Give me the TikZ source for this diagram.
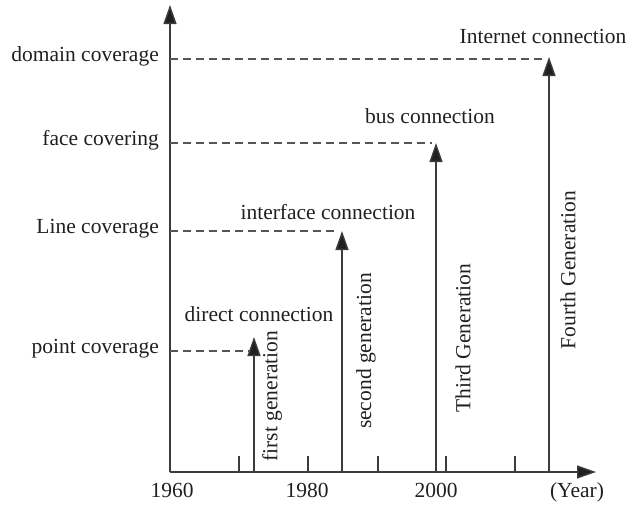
\documentclass[tikz,border=0pt]{standalone}
\usepackage{fontspec}
\setmainfont{Liberation Serif}
\usetikzlibrary{arrows.meta}
\definecolor{ink}{HTML}{231F20}
\definecolor{axisgray}{HTML}{3C3C3C}
\definecolor{dashgray}{HTML}{555555}
\tikzset{
  axisline/.style={line width=1.4pt, draw=axisgray, -{Triangle[length=19pt,width=13pt,fill=ink]}},
  genarrow/.style={line width=1.4pt, draw=axisgray, -{Triangle[length=19pt,width=13pt,fill=ink]}},
  level/.style={line width=1.3pt, draw=dashgray, dash pattern=on 8pt off 5pt},
  tickline/.style={line width=1.2pt, draw=axisgray},
  lbl/.style={font=\fontsize{21.5}{25}\selectfont, text=ink, inner sep=0pt},
  vlbl/.style={lbl, rotate=90, anchor=center},
}
\begin{document}
\begin{tikzpicture}[x=1pt,y=-1pt]
\useasboundingbox (0,0) rectangle (639,504);
% axes
\coordinate (o) at (170,472);
\coordinate (ytop) at (170,5);
\coordinate (xend) at (596,472);
\draw[axisline] (o) -- (ytop);
\draw[axisline] (o) -- (xend);
% ticks
\foreach \x/\n in {239/a,308/b,378/c,446/d,515/e}{
  \coordinate (t\n) at (\x,472);
  \coordinate (tt\n) at (\x,456);
  \draw[tickline] (t\n) -- (tt\n);
}
% level points on y axis
\coordinate (ydom) at (170,59);
\coordinate (yface) at (170,143);
\coordinate (yline) at (170,231);
\coordinate (ypoint) at (170,351);
% generation arrows
\coordinate (b1) at (254,472); \coordinate (h1) at (254,337);
\coordinate (b2) at (342,472); \coordinate (h2) at (342,231);
\coordinate (b3) at (436,472); \coordinate (h3) at (436,143);
\coordinate (b4) at (549,472); \coordinate (h4) at (549,57);
\coordinate (d1) at (250,351);
\coordinate (d2) at (338,231);
\coordinate (d3) at (432,143);
\coordinate (d4) at (545,59);
\draw[genarrow] (b1) -- (h1);
\draw[genarrow] (b2) -- (h2);
\draw[genarrow] (b3) -- (h3);
\draw[genarrow] (b4) -- (h4);
\draw[level] (ydom) -- (d4);
\draw[level] (yface) -- (d3);
\draw[level] (yline) -- (d2);
\draw[level] (ypoint) -- (d1);
% y labels
\node[lbl, anchor=mid east] (ldom) at (159,59) {domain coverage};
\node[lbl, anchor=mid east] (lface) at (159,143) {face covering};
\node[lbl, anchor=mid east] (lline) at (159,231) {Line coverage};
\node[lbl, anchor=mid east] (lpoint) at (159,351) {point coverage};
% x labels
\node[lbl, anchor=base] (x1960) at (172,497) {1960};
\node[lbl, anchor=base] (x1980) at (307,497) {1980};
\node[lbl, anchor=base] (x2000) at (436,497) {2000};
\node[lbl, anchor=base] (xyear) at (577,497) {(Year)};
% connection labels
\node[lbl, anchor=base] (c4) at (543,43) {Internet connection};
\node[lbl, anchor=base] (c3) at (430,123) {bus connection};
\node[lbl, anchor=base] (c2) at (328,219) {interface connection};
\node[lbl, anchor=base] (c1) at (259,321) {direct connection};
% generation labels
\node[vlbl] (g1) at (272,396) {first generation};
\node[vlbl] (g2) at (366,351) {second generation};
\node[vlbl] (g3) at (463,338) {Third Generation};
\node[vlbl] (g4) at (568,270) {Fourth Generation};
\end{tikzpicture}
\end{document}
